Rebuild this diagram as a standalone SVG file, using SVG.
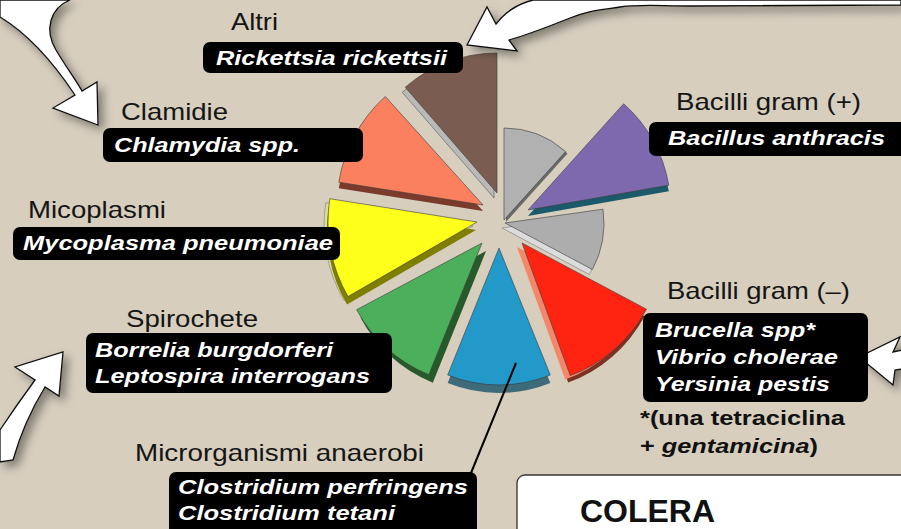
<svg xmlns="http://www.w3.org/2000/svg" width="901" height="529" viewBox="0 0 901 529">
<defs>
<style>
.lbl{font-family:"Liberation Sans",Arial,sans-serif;font-size:24px;fill:#151515;}
.sp{font-family:"Liberation Sans",Arial,sans-serif;font-size:20px;font-weight:bold;font-style:italic;fill:#fff;}
.box{fill:#000;}
.top{stroke:#3a3a3a;stroke-width:0.6;}
.arrow{fill:#fff;stroke:#111;stroke-width:1.3;stroke-linejoin:miter;filter:url(#sh);}
.note{font-family:"Liberation Sans",Arial,sans-serif;font-size:21px;font-weight:bold;fill:#111;}
</style>
<filter id="sh" x="-30%" y="-30%" width="160%" height="160%">
<feDropShadow dx="5" dy="5" stdDeviation="5" flood-color="#000" flood-opacity="0.4"/>
</filter>
</defs>
<rect width="901" height="529" fill="#d7cebe"/>

<g id="pie">
<g id="slice-altri">
<path transform="translate(-3,5)" d="M497,193 L405.2,87.3 A140,140 0 0 1 497,53 Z" fill="#b9b9b9" stroke="#555" stroke-width="0.6"/>
<path class="top" d="M497,193 L405.2,87.3 A140,140 0 0 1 497,53 Z" fill="#7a5d50"/>
</g>
<g id="slice-gray1">
<path transform="translate(2,2)" d="M504,220 L504,128 A92,92 0 0 1 565.6,151.6 Z" fill="#6a6a6a"/>
<path class="top" d="M504,220 L504,128 A92,92 0 0 1 565.6,151.6 Z" fill="#b1b1b1"/>
</g>
<g id="slice-gram-pos">
<path transform="translate(0,6)" d="M528,210 L623.7,103.7 A143,143 0 0 1 668.8,185.2 Z" fill="#1b5a6a"/>
<path class="top" d="M528,210 L623.7,103.7 A143,143 0 0 1 668.8,185.2 Z" fill="#7e68ae"/>
</g>
<g id="slice-gray2">
<path transform="translate(-3,5)" d="M505,223 L603,209.2 A99,99 0 0 1 592.4,269.5 Z" fill="#dcdcdc" stroke="#777" stroke-width="0.6"/>
<path class="top" d="M505,223 L603,209.2 A99,99 0 0 1 592.4,269.5 Z" fill="#adadad"/>
</g>
<g id="slice-gram-neg">
<path transform="translate(-2,7)" d="M522,243 L646.5,309.2 A141,141 0 0 1 570.2,375.5 Z" fill="#7a3222"/>
<path transform="translate(-5,4)" d="M522,243 L646.5,309.2 A141,141 0 0 1 570.2,375.5 Z" fill="#f4876a"/>
<path class="top" d="M522,243 L646.5,309.2 A141,141 0 0 1 570.2,375.5 Z" fill="#ff2312"/>
</g>
<g id="slice-anaerobi">
<path transform="translate(0,8)" d="M499,248 L550.3,375 A137,137 0 0 1 447.7,375 Z" fill="#3d6b7a"/>
<path class="top" d="M499,248 L550.3,375 A137,137 0 0 1 447.7,375 Z" fill="#2299c8"/>
</g>
<g id="slice-spirochete">
<path transform="translate(4,8)" d="M482,243 L428.8,374.7 A142,142 0 0 1 356.6,309.7 Z" fill="#275a2b"/>
<path class="top" d="M482,243 L428.8,374.7 A142,142 0 0 1 356.6,309.7 Z" fill="#4caf5b"/>
</g>
<g id="slice-micoplasmi">
<path transform="translate(-4,4)" d="M477,222 L348,296.5 A149,149 0 0 1 329.8,198.7 Z" fill="#dcdca0" stroke="#666" stroke-width="0.5"/>
<path transform="translate(-1,8)" d="M477,222 L348,296.5 A149,149 0 0 1 329.8,198.7 Z" fill="#7e7e00"/>
<path class="top" d="M477,222 L348,296.5 A149,149 0 0 1 329.8,198.7 Z" fill="#ffff1c"/>
</g>
<g id="slice-clamidie">
<path transform="translate(0,6)" d="M483,205 L338.8,182.2 A146,146 0 0 1 385.3,96.5 Z" fill="#7a3a2c"/>
<path class="top" d="M483,205 L338.8,182.2 A146,146 0 0 1 385.3,96.5 Z" fill="#fa8060"/>
</g>
</g>

<g id="connectors">
<line x1="516" y1="363" x2="471" y2="473" stroke="#000" stroke-width="2"/>
<path class="arrow" d="M98,125 L53,108 L75,95 C55,65 30,35 0,17 L0,0 L70,0 C50,8 44,30 56,50 C64,64 76,80 82,91 L97,82 Z"/>
<path class="arrow" d="M467,45 L487,7 L496,24 C505,12 518,4 533,0 L901,0 L901,5 L690,6 C660,6 640,4 620,7 C600,10 590,10 570,18 C550,26 530,34 509,40 L517,51 Z"/>
<path class="arrow" d="M63,352 L59,396 L45,387 C31,410 20,435 13,460 L0,462 L0,430 C12,412 24,395 35,380 L15,367 Z"/>
<path class="arrow" d="M859,357 L900,337 L893,352 L902,350 L902,369 L895,370 L893,385 Z"/>
</g>

<g id="altri">
<text class="lbl" x="231" y="30" textLength="47" lengthAdjust="spacingAndGlyphs">Altri</text>
<rect class="box" x="203" y="42" width="260" height="31" rx="7"/>
<text class="sp" x="216" y="65" textLength="231" lengthAdjust="spacingAndGlyphs">Rickettsia rickettsii</text>
</g>
<g id="clamidie">
<text class="lbl" x="121" y="120" textLength="107" lengthAdjust="spacingAndGlyphs">Clamidie</text>
<rect class="box" x="103" y="128" width="260" height="34" rx="7"/>
<text class="sp" x="114" y="152" textLength="186" lengthAdjust="spacingAndGlyphs">Chlamydia spp.</text>
</g>
<g id="micoplasmi">
<text class="lbl" x="28" y="218" textLength="138" lengthAdjust="spacingAndGlyphs">Micoplasmi</text>
<rect class="box" x="13" y="227" width="327" height="33" rx="7"/>
<text class="sp" x="23" y="250" textLength="310" lengthAdjust="spacingAndGlyphs">Mycoplasma pneumoniae</text>
</g>
<g id="spirochete">
<text class="lbl" x="126" y="327" textLength="132" lengthAdjust="spacingAndGlyphs">Spirochete</text>
<rect class="box" x="86" y="333" width="306" height="60" rx="7"/>
<text class="sp" x="95" y="357" textLength="238" lengthAdjust="spacingAndGlyphs">Borrelia burgdorferi</text>
<text class="sp" x="95" y="383" textLength="275" lengthAdjust="spacingAndGlyphs">Leptospira interrogans</text>
</g>
<g id="bacilli-pos">
<text class="lbl" x="676" y="110" textLength="185" lengthAdjust="spacingAndGlyphs">Bacilli gram (+)</text>
<rect class="box" x="649" y="122" width="258" height="34" rx="7"/>
<text class="sp" x="668" y="145" textLength="217" lengthAdjust="spacingAndGlyphs">Bacillus anthracis</text>
</g>
<g id="bacilli-neg">
<text class="lbl" x="667" y="299" textLength="183" lengthAdjust="spacingAndGlyphs">Bacilli gram (–)</text>
<rect class="box" x="643" y="313" width="225" height="89" rx="7"/>
<text class="sp" x="655" y="337" textLength="160" lengthAdjust="spacingAndGlyphs">Brucella spp*</text>
<text class="sp" x="655" y="364" textLength="183" lengthAdjust="spacingAndGlyphs">Vibrio cholerae</text>
<text class="sp" x="655" y="391" textLength="175" lengthAdjust="spacingAndGlyphs">Yersinia pestis</text>
<text class="note" x="640" y="425" textLength="205" lengthAdjust="spacingAndGlyphs">*(una tetraciclina</text>
<text class="note" x="640" y="453" textLength="178" lengthAdjust="spacingAndGlyphs">+ <tspan font-style="italic">gentamicina</tspan>)</text>
</g>
<g id="anaerobi">
<text class="lbl" x="135" y="461" textLength="289" lengthAdjust="spacingAndGlyphs">Microrganismi anaerobi</text>
<rect class="box" x="169" y="472" width="308" height="70" rx="7"/>
<text class="sp" x="178" y="494" textLength="290" lengthAdjust="spacingAndGlyphs">Clostridium perfringens</text>
<text class="sp" x="178" y="520" textLength="217" lengthAdjust="spacingAndGlyphs">Clostridium tetani</text>
</g>
<g id="colera">
<rect x="517" y="475" width="400" height="80" rx="8" fill="#fff" stroke="#333" stroke-width="1.3"/>
<text x="580" y="522" font-family="Liberation Sans,Arial,sans-serif" font-size="31" font-weight="bold" fill="#111" textLength="135" lengthAdjust="spacingAndGlyphs">COLERA</text>
</g>
</svg>
